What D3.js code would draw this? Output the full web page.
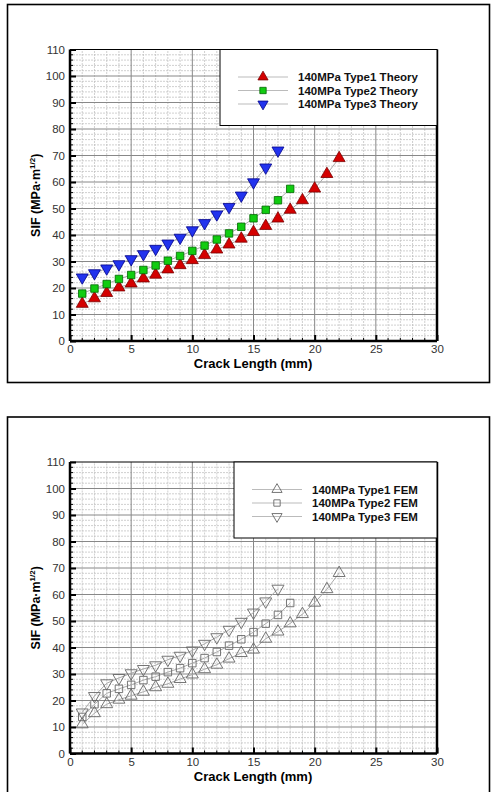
<!DOCTYPE html>
<html>
<head>
<meta charset="utf-8">
<script src="https://cdn.jsdelivr.net/npm/d3@7"></script>
<style>
  body { margin: 0; background: #fff; }
  svg { display: block; font-family: "Liberation Sans", Arial, sans-serif; }
</style>
</head>
<body>
<svg id="chart" width="491" height="792"></svg>
<script>
// crack lengths (mm)
let crack22 = [1, 2, 3, 4, 5, 6, 7, 8, 9, 10, 11, 12, 13, 14, 15, 16, 17, 18, 19, 20, 21, 22];
let crack18 = [1, 2, 3, 4, 5, 6, 7, 8, 9, 10, 11, 12, 13, 14, 15, 16, 17, 18];
let crack17 = [1, 2, 3, 4, 5, 6, 7, 8, 9, 10, 11, 12, 13, 14, 15, 16, 17];

// SIF values
let theory1 = [14, 16.1, 18.1, 20.2, 21.7, 23.6, 25, 27, 28.6, 30.5, 32.4, 34.5, 36.4, 38.6, 41.1, 43.4, 46.2, 49.5, 53.1, 57.5, 63, 69];
let theory2 = [17.9, 19.8, 21.5, 23.4, 24.9, 26.8, 28.5, 30.3, 32.1, 34, 36, 38.3, 40.6, 43.1, 46.3, 49.5, 53.1, 57.4];
let theory3 = [24, 25.6, 27.4, 29, 30.9, 32.8, 34.8, 36.8, 39, 41.8, 44.5, 47.8, 50.6, 54.9, 59.9, 65.5, 71.9];

let fem1 = [11, 15.2, 18.6, 20.3, 21.8, 23.3, 25, 26.3, 28.1, 29.8, 31.8, 33.5, 35.8, 37.9, 39.2, 43.3, 46, 49.1, 52.6, 56.9, 62, 68.1];
let fem2 = [13.8, 18.6, 22.7, 24.4, 25.9, 27.7, 29, 30.7, 32.2, 34.1, 36, 38.3, 40.7, 43.1, 45.8, 49, 52.3, 56.8];
let fem3 = [15.5, 21.7, 26.5, 28.5, 30.3, 31.9, 33.3, 35.4, 36.9, 38.9, 41.4, 43.9, 46.7, 49.7, 53.2, 57.4, 62.2];

let theoryNames = ['140MPa Type1 Theory', '140MPa Type2 Theory', '140MPa Type3 Theory'];
let femNames = ['140MPa Type1 FEM', '140MPa Type2 FEM', '140MPa Type3 FEM'];

let xTicks = [0, 5, 10, 15, 20, 25, 30];
let yTicks = [0, 10, 20, 30, 40, 50, 60, 70, 80, 90, 100, 110];

let svg = d3.select('#chart');

function marker(sel, kind, style, scale) {
    let s = scale || 1;
    let p = sel.append('path')
        .attr('fill', style.fill)
        .attr('stroke', style.stroke)
        .attr('stroke-width', style.sw);
    if (kind == 'sq') {
        p.attr('d', d3.symbol().type(d3.symbolSquare).size(56 * s * s)());
    } else {
        p.attr('d', d3.symbol().type(d3.symbolTriangle).size(62 * s * s)());
        if (kind == 'down') p.attr('transform', 'rotate(180)');
    }
}

function drawPanel(top, frameH, series, names, legendLeft) {
    // outer frame
    svg.append('rect')
        .attr('x', 7.5).attr('y', top + 0.5)
        .attr('width', 482).attr('height', frameH)
        .attr('fill', 'none').attr('stroke', '#000').attr('stroke-width', 1.6);

    let x = d3.scaleLinear().domain([0, 30]).range([70, 437]);
    let y = d3.scaleLinear().domain([0, 110]).range([top + 337, top + 45.5]);

    let g = svg.append('g');

    // minor grid
    g.append('g').selectAll('line')
        .data(d3.range(1, 30).filter(d => d % 5 != 0))
        .join('line')
        .attr('x1', d => x(d)).attr('x2', d => x(d))
        .attr('y1', y(0)).attr('y2', y(110))
        .attr('stroke', '#bbb').attr('stroke-width', 0.7).attr('stroke-dasharray', '2,1');
    g.append('g').selectAll('line')
        .data(d3.range(2, 110, 2).filter(d => d % 10 != 0))
        .join('line')
        .attr('y1', d => y(d)).attr('y2', d => y(d))
        .attr('x1', x(0)).attr('x2', x(30))
        .attr('stroke', '#bbb').attr('stroke-width', 0.7).attr('stroke-dasharray', '2,1');

    // major grid
    g.append('g').selectAll('line')
        .data(xTicks.slice(1, -1))
        .join('line')
        .attr('x1', d => x(d)).attr('x2', d => x(d))
        .attr('y1', y(0)).attr('y2', y(110))
        .attr('stroke', '#888').attr('stroke-width', 1);
    g.append('g').selectAll('line')
        .data(yTicks.slice(1, -1))
        .join('line')
        .attr('y1', d => y(d)).attr('y2', d => y(d))
        .attr('x1', x(0)).attr('x2', x(30))
        .attr('stroke', '#888').attr('stroke-width', 1);

    // axes
    let xAxis = g.append('g')
        .attr('transform', `translate(0,${y(0)})`)
        .call(d3.axisBottom(x).tickValues(xTicks).tickSize(-6).tickPadding(4));
    let yAxis = g.append('g')
        .attr('transform', `translate(${x(0)},0)`)
        .call(d3.axisLeft(y).tickValues(yTicks).tickSize(-6).tickPadding(5));
    [xAxis, yAxis].forEach(a => {
        a.select('.domain').remove();
        a.selectAll('line').attr('stroke', '#000').attr('stroke-width', 2);
        a.selectAll('text').attr('font-size', 11.5).attr('fill', '#333')
            .attr('font-family', '"Liberation Sans", Arial, sans-serif');
    });

    // minor ticks
    g.append('g').selectAll('line')
        .data(d3.range(1, 30).filter(d => d % 5 != 0))
        .join('line')
        .attr('x1', d => x(d)).attr('x2', d => x(d))
        .attr('y1', y(0)).attr('y2', y(0) - 3)
        .attr('stroke', '#000').attr('stroke-width', 1);
    g.append('g').selectAll('line')
        .data(d3.range(2, 110, 2).filter(d => d % 10 != 0))
        .join('line')
        .attr('y1', d => y(d)).attr('y2', d => y(d))
        .attr('x1', x(0)).attr('x2', x(0) + 3)
        .attr('stroke', '#000').attr('stroke-width', 1);

    // plot border
    g.append('line').attr('x1', x(0)).attr('x2', x(30)).attr('y1', y(110)).attr('y2', y(110))
        .attr('stroke', '#000').attr('stroke-width', 1);
    g.append('line').attr('x1', x(30)).attr('x2', x(30)).attr('y1', y(110)).attr('y2', y(0))
        .attr('stroke', '#000').attr('stroke-width', 2.5);
    g.append('line').attr('x1', x(0)).attr('x2', x(30)).attr('y1', y(0)).attr('y2', y(0))
        .attr('stroke', '#000').attr('stroke-width', 2.5);
    g.append('line').attr('x1', x(0)).attr('x2', x(0)).attr('y1', y(110)).attr('y2', y(0))
        .attr('stroke', '#000').attr('stroke-width', 2.5);

    // series
    let line = d3.line().x(d => x(d[0])).y(d => y(d[1]));
    series.forEach(s => {
        let pts = s.xs.map((v, i) => [v, s.ys[i]]);
        g.append('path')
            .attr('d', line(pts))
            .attr('fill', 'none').attr('stroke', '#aaa').attr('stroke-width', 1);
        g.append('g').selectAll('g')
            .data(pts)
            .join('g')
            .attr('transform', d => `translate(${x(d[0])},${y(d[1])})`)
            .each(function() { marker(d3.select(this), s.kind, s.style); });
    });

    // legend
    let lg = g.append('g');
    lg.append('rect')
        .attr('x', legendLeft).attr('y', y(110))
        .attr('width', x(30) - legendLeft).attr('height', 76)
        .attr('fill', '#fff').attr('stroke', '#000').attr('stroke-width', 1);
    let lx = legendLeft + 18;
    names.forEach((n, i) => {
        let ly = y(110) + 27.5 + i * 13.5;
        lg.append('line').attr('x1', lx).attr('x2', lx + 50).attr('y1', ly).attr('y2', ly)
            .attr('stroke', '#bbb').attr('stroke-width', 1);
        let m = lg.append('g').attr('transform', `translate(${lx + 25},${ly})`);
        marker(m, series[i].kind, series[i].style, 0.85);
        lg.append('text').attr('x', lx + 60).attr('y', ly).attr('dy', '0.36em')
            .attr('font-size', 11.5).attr('font-weight', 'bold').attr('fill', '#111')
            .text(n);
    });

    // axis titles
    g.append('text')
        .attr('x', 253).attr('y', y(0) + 27)
        .attr('text-anchor', 'middle').attr('font-size', 13).attr('font-weight', 'bold')
        .text('Crack Length (mm)');
    let yt = g.append('text')
        .attr('transform', `translate(40,${(y(0) + y(110)) / 2}) rotate(-90)`)
        .attr('text-anchor', 'middle').attr('font-size', 12.5).attr('font-weight', 'bold');
    yt.append('tspan').text('SIF (MPa\u00b7m');
    yt.append('tspan').attr('font-size', 8).attr('dy', -5).text('1/2');
    yt.append('tspan').attr('dy', 5).text(')');
}

let red = { fill: '#d40000', stroke: '#7a0000', sw: 0.8 };
let green = { fill: '#11cc11', stroke: '#006600', sw: 0.8 };
let blue = { fill: '#2233ee', stroke: '#000088', sw: 0.8 };
let hollow = { fill: 'none', stroke: '#666', sw: 0.9 };

drawPanel(4, 378, [
    { xs: crack22, ys: theory1, kind: 'up', style: red },
    { xs: crack18, ys: theory2, kind: 'sq', style: green },
    { xs: crack17, ys: theory3, kind: 'down', style: blue }
], theoryNames, 220);

drawPanel(416.5, 400, [
    { xs: crack22, ys: fem1, kind: 'up', style: hollow },
    { xs: crack18, ys: fem2, kind: 'sq', style: hollow },
    { xs: crack17, ys: fem3, kind: 'down', style: hollow }
], femNames, 234);
</script>
</body>
</html>
